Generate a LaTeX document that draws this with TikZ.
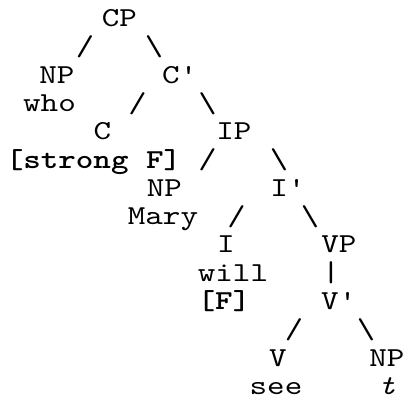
\documentclass[tikz,border=0pt]{standalone}
\usepackage{fontspec}
\setmonofont{lmmono10-regular.otf}[
  BoldFont=lmmonolt10-bold.otf,
  ItalicFont=lmmono10-italic.otf,
  FakeStretch=1.22]

\begin{document}
\begin{tikzpicture}[x=0.5pt,y=-0.5pt,
  every node/.style={font=\ttfamily\fontsize{13.7}{13.7}\selectfont,inner sep=0pt,anchor=base},
  branch/.style={font=\ttfamily\fontsize{14.3}{14.3}\selectfont}]

\useasboundingbox (0,0) rectangle (409,398);

\node (CP) at (119.5,26.5) {CP};
\node[branch] (CPl) at (85,55.5) {/};
\node[branch] (CPr) at (154,55.5) {\char`\\};

\node (NPwho) at (57,83.1) {NP};
\node (Cbar) at (179.8,83.1) {C'};
\node (who) at (49.5,111.4) {who};
\node[branch] (Cbarl) at (137.5,112) {/};
\node[branch] (Cbarr) at (207.5,112) {\char`\\};

\node (C) at (102.5,139.7) {C};
\node (IP) at (234,139.7) {IP};
\node (strongF) at (93.5,168) {\textbf{[strong F]}};
\node[branch] (IPl) at (207.5,168.5) {/};
\node[branch] (IPr) at (279,168.5) {\char`\\};

\node (NPmary) at (164.5,196.3) {NP};
\node (Ibar) at (288,196.3) {I'};
\node (mary) at (163,224.6) {Mary};
\node[branch] (Ibarl) at (236.5,225) {/};
\node[branch] (Ibarr) at (310,225) {\char`\\};

\node (I) at (226,252.9) {I};
\node (VP) at (339,252.9) {VP};
\node (will) at (233,281.2) {will};
\node[branch] (VPbar) at (331,281.5) {|};
\node (F) at (224,309.5) {\textbf{[F]}};
\node (Vbar) at (338.8,309.5) {V'};

\node[branch] (Vbarl) at (294,338) {/};
\node[branch] (Vbarr) at (366,338) {\char`\\};
\node (V) at (278,366.1) {V};
\node (NPt) at (387,366.1) {NP};
\node (see) at (276,394.4) {see};
\node (t) at (387,394.4) {\textit{t}};

\end{tikzpicture}
\end{document}
